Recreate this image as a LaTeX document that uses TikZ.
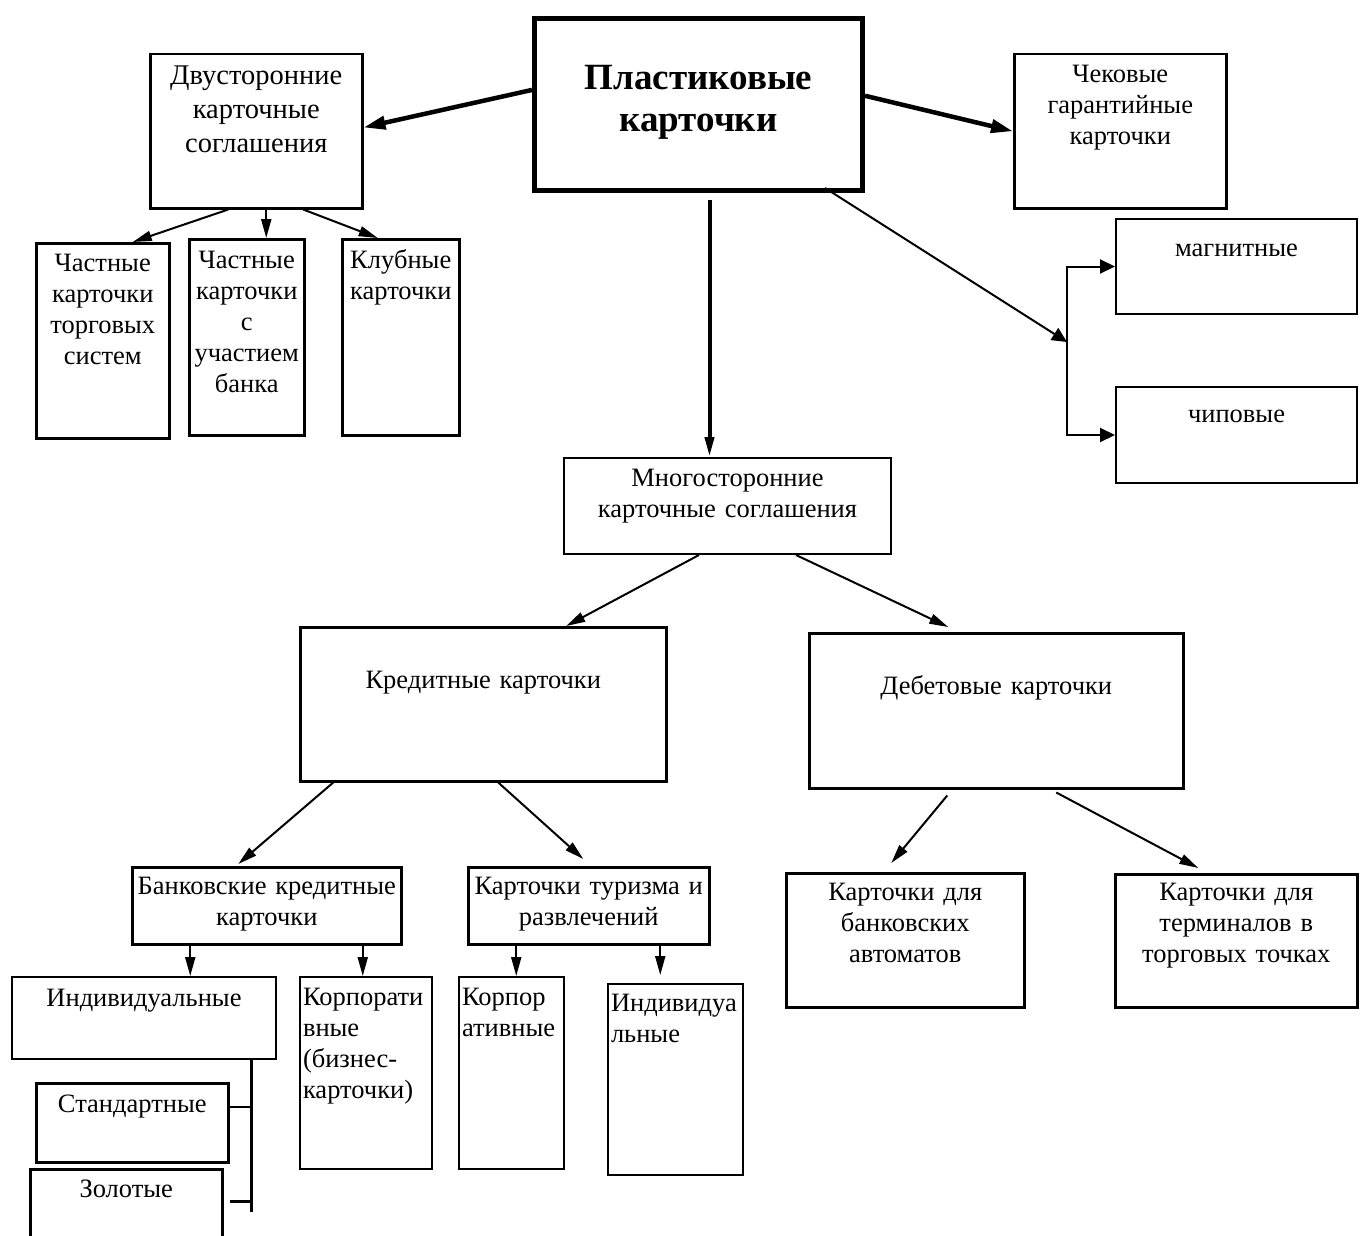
\documentclass[tikz,border=0pt]{standalone}
\usepackage{fontspec}
\setmainfont{Liberation Serif}
\usetikzlibrary{arrows.meta}

\begin{document}
\begin{tikzpicture}[
    x=1pt, y=-1pt,
    card/.style={draw, line width=2.5pt, anchor=north west, inner xsep=3pt, inner ysep=0pt, align=center, font=\fontsize{26.5}{31}\selectfont},
    thincard/.style={card, line width=2pt},
    leftcard/.style={card, align=left, line width=2pt},
    maincard/.style={card, line width=5pt, font=\fontsize{37}{42}\selectfont\bfseries},
    arrow/.style={-{Triangle[length=19pt,width=10pt]}, line width=2pt},
    bigarrow/.style={-{Triangle[length=22pt,width=13pt]}, line width=4.5pt},
    downarrow/.style={-{Triangle[length=20pt,width=9pt]}, line width=4pt},
    forkarrow/.style={-{Triangle[length=15pt,width=14pt]}, line width=2pt},
    link/.style={line width=2.5pt}
]
    \path[use as bounding box, clip] (0,0) rectangle (1362,1236);

    % top row
    \node[maincard, text width=322pt, text height=71pt, text depth=101pt] (plastic) at (532,16) {Пластиковые\\карточки};
    \node[card, font=\fontsize{28.5}{34}\selectfont, text width=206pt, text height=30pt, text depth=124pt] (bilateral) at (149,53) {Двусторонние\\карточные\\соглашения};
    \node[card, text width=206pt, text height=28pt, text depth=126pt] (cheque) at (1013,53) {Чековые\\гарантийные\\карточки};

    \node[card, text width=127pt, text height=28pt, text depth=167pt] (merchant) at (35,242) {Частные\\карточки\\торговых\\систем};
    \node[card, text width=109pt, text height=29pt, text depth=167pt] (bankprivate) at (188,238) {Частные\\карточки\\с\\участием\\банка};
    \node[card, text width=111pt, text height=29pt, text depth=167pt] (club) at (341,238) {Клубные\\карточки};

    \node[thincard, text width=235pt, text height=37pt, text depth=58pt] (magnetic) at (1115,218) {магнитные};
    \node[thincard, text width=235pt, text height=35pt, text depth=61pt] (chip) at (1115,386) {чиповые};

    % middle
    \node[thincard, text width=321pt, text height=28pt, text depth=68pt] (multilateral) at (563,457) {Многосторонние\\карточные соглашения};
    \node[card, text width=360pt, text height=61pt, text depth=93pt] (credit) at (299,626) {Кредитные карточки};
    \node[card, text width=368pt, text height=61pt, text depth=94pt] (debit) at (808,632) {Дебетовые карточки};

    % bottom
    \node[card, text width=263pt, text height=27pt, text depth=50pt] (bankcredit) at (131,866) {Банковские кредитные\\карточки};
    \node[card, text width=235pt, text height=27pt, text depth=50pt] (travel) at (467,866) {Карточки туризма и\\развлечений};
    \node[card, text width=232pt, text height=27pt, text depth=107pt] (atm) at (785,872) {Карточки для\\банковских\\автоматов};
    \node[card, text width=236pt, text height=26.5pt, text depth=106.5pt] (pos) at (1114,873) {Карточки для\\терминалов в\\торговых точках};

    \node[thincard, text width=258pt, text height=29pt, text depth=53pt] (individual) at (11,976) {Индивидуальные};
    \node[leftcard, text width=126pt, text height=28pt, text depth=164pt] (corporate) at (299,976) {Корпорати\\вные\\(бизнес-\\карточки)};
    \node[card, text width=186pt, text height=29pt, text depth=50pt] (standard) at (35,1082) {Стандартные};
    \node[card, text width=186pt, text height=28pt, text depth=122pt] (gold) at (29,1168) {Золотые};
    \node[leftcard, text width=99pt, text height=28pt, text depth=164pt] (travelcorp) at (458,976) {Корпор\\ативные};
    \node[leftcard, text width=129pt, text height=27pt, text depth=164pt] (travelindiv) at (607,983) {Индивидуа\\льные};

    \coordinate (fork) at (1067,342);
    \coordinate (brace) at (251.5,1212);

    \draw[bigarrow] (plastic.175) -- (bilateral.2);
    \draw[bigarrow] (plastic.3) -- (cheque.west);
    \draw[downarrow] ([xshift=11pt,yshift=-7pt]plastic.south) -- ([xshift=11pt]plastic.south |- multilateral.north);
    \draw[forkarrow] ([xshift=-40pt,yshift=5pt]plastic.south east) -- (fork);
    \draw[forkarrow] (fork) |- (magnetic.west);
    \draw[forkarrow] (fork) |- (chip.west);

    \draw[arrow] ([xshift=-28pt]bilateral.south) -- ([xshift=30pt]merchant.north);
    \draw[arrow] ([xshift=10pt]bilateral.south) -- ([xshift=10pt]bilateral.south |- bankprivate.north);
    \draw[arrow] ([xshift=47pt]bilateral.south) -- ([xshift=-23pt]club.north);

    \draw[arrow] ([xshift=-28.5pt]multilateral.south) -- ([xshift=83pt]credit.north);
    \draw[arrow] ([xshift=68.5pt]multilateral.south) -- ([xshift=-48pt,yshift=5pt]debit.north);

    \draw[arrow] ([xshift=-150pt]credit.south) -- ([xshift=-28.5pt,yshift=2pt]bankcredit.north);
    \draw[arrow] ([xshift=15pt]credit.south) -- ([xshift=-5.5pt,yshift=7pt]travel.north);
    \draw[arrow] ([xshift=-49pt,yshift=-6pt]debit.south) -- ([xshift=-14pt,yshift=9pt]atm.north);
    \draw[arrow] ([xshift=60pt,yshift=-3pt]debit.south) -- ([xshift=-38pt,yshift=5pt]pos.north);

    \draw[arrow] ([xshift=-76.5pt]bankcredit.south) -- ([xshift=-76.5pt]bankcredit.south |- individual.north);
    \draw[arrow] ([xshift=96pt]bankcredit.south) -- ([xshift=96pt]bankcredit.south |- corporate.north);
    \draw[arrow] ([xshift=-72.5pt]travel.south) -- ([xshift=-72.5pt]travel.south |- travelcorp.north);
    \draw[arrow] ([xshift=71.5pt]travel.south) -- ([xshift=71.5pt,yshift=8pt]travel.south |- travelindiv.north);

    \draw[link] (individual.south -| brace) -- (brace);
    \draw[link] ([yshift=16pt]standard.east) -- ([yshift=16pt]standard.east -| brace);
    \draw[link] ([xshift=6pt,yshift=-33.5pt]gold.north east) -- ([yshift=-33.5pt]gold.north east -| brace);
\end{tikzpicture}
\end{document}
